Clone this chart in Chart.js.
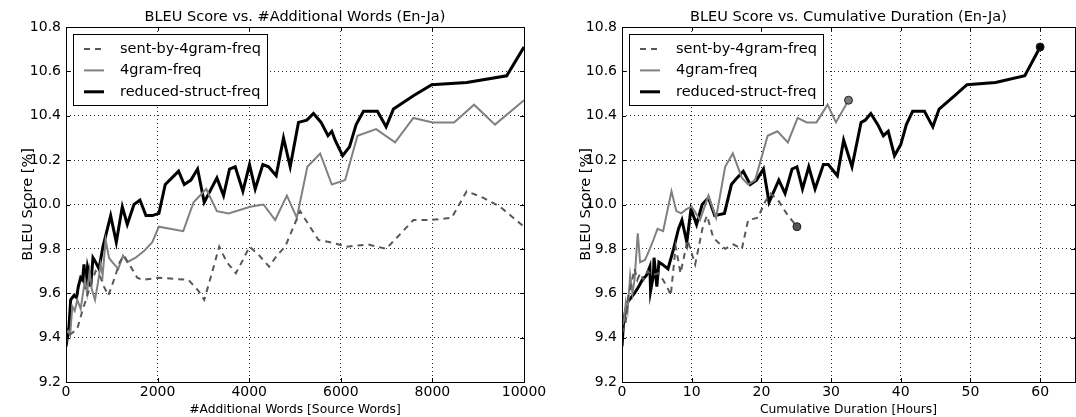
<!DOCTYPE html>
<html><head><meta charset="utf-8">
<script src="https://cdn.jsdelivr.net/npm/chart.js@4/dist/chart.umd.min.js"></script>
<style>
html,body{margin:0;padding:0;background:#fff;overflow:hidden;width:1076px;height:417px;position:relative;}
#wrapL{position:absolute;left:0;top:0;width:560px;height:417px;}
#wrapR{position:absolute;left:540px;top:0;width:540px;height:417px;}
canvas{display:block;}
</style></head><body>
<div id="wrapL"><canvas id="cL" width="560" height="417"></canvas></div>
<div id="wrapR"><canvas id="cR" width="540" height="417"></canvas></div>
<script>
// ---------- data ----------
const seriesLabels = ['sent-by-4gram-freq', '4gram-freq', 'reduced-struct-freq'];
const yTicks = [9.2, 9.4, 9.6, 9.8, 10.0, 10.2, 10.4, 10.6, 10.8];
const wordTicks = [0, 2000, 4000, 6000, 8000, 10000];
const hourTicks = [0, 10, 20, 30, 40, 50, 60];

// Left: #Additional Words
const wordsDashed = [0,29,130,247,356,465,560,647,740,829,924,1047,1171,1265,1411,1556,1665,2022,2676,2895,3018,3185,3345,3513,3709,3862,4007,4220,4436,4604,4785,4967,5113,5295,5513,5767,6131,6600,6989,7222,7585,7949,8422,8749,9113,9476,10000];
const bleuWordsDashed = [9.37,9.41,9.42,9.44,9.52,9.59,9.65,9.70,9.68,9.63,9.59,9.66,9.74,9.77,9.72,9.67,9.66,9.67,9.66,9.61,9.57,9.69,9.81,9.74,9.69,9.75,9.81,9.77,9.72,9.77,9.81,9.90,9.97,9.91,9.84,9.83,9.81,9.82,9.80,9.85,9.93,9.93,9.94,10.06,10.03,9.99,9.90];

const wordsGray = [0,51,90,138,190,247,320,415,460,516,560,633,700,756,800,865,940,1011,1142,1244,1338,1520,1702,1884,2029,2560,2785,3062,3295,3549,4022,4313,4567,4822,5040,5270,5549,5804,6095,6364,6771,7185,7585,8007,8473,8909,9367,10000];
const bleuWordsGray = [9.42,9.43,9.41,9.54,9.52,9.57,9.53,9.66,9.60,9.70,9.62,9.57,9.65,9.73,9.68,9.84,9.76,9.74,9.71,9.77,9.74,9.76,9.79,9.83,9.90,9.88,10.01,10.07,9.97,9.96,9.99,10.0,9.93,10.04,9.94,10.17,10.23,10.09,10.11,10.31,10.34,10.28,10.39,10.37,10.37,10.45,10.36,10.47];

const wordsBlack = [0,65,102,175,230,269,320,360,393,429,470,516,538,589,647,720,807,975,1098,1229,1338,1484,1615,1745,1884,2029,2167,2313,2458,2582,2727,2873,3018,3295,3440,3571,3695,3862,4007,4131,4298,4422,4589,4749,4895,5076,5258,5404,5570,5720,5804,5876,6040,6190,6335,6495,6800,6989,7149,7585,7985,8749,9622,10000];
const bleuWordsBlack = [9.36,9.45,9.57,9.59,9.58,9.63,9.67,9.66,9.73,9.62,9.72,9.68,9.63,9.76,9.74,9.71,9.81,9.95,9.83,9.99,9.91,10.0,10.02,9.95,9.95,9.96,10.09,10.12,10.15,10.09,10.11,10.16,10.01,10.12,10.04,10.16,10.17,10.06,10.18,10.07,10.18,10.17,10.13,10.30,10.17,10.37,10.38,10.41,10.37,10.31,10.33,10.29,10.22,10.26,10.36,10.42,10.42,10.35,10.43,10.49,10.54,10.55,10.58,10.71];

// Right: Cumulative Duration [Hours]
const hoursDashed = [0,0.5,0.9,1.4,1.8,2.2,2.6,3.1,3.7,4.3,5.2,5.9,6.6,7.0,7.7,8.4,9.4,10.5,11.6,12.2,13.1,14.8,16.0,17.2,18.1,19.5,20.5,21.3,22.4,23.6,25.1];
const bleuHoursDashed = [9.42,9.46,9.59,9.65,9.71,9.66,9.69,9.66,9.70,9.68,9.69,9.66,9.62,9.59,9.81,9.69,9.84,9.73,9.90,9.95,9.85,9.80,9.82,9.80,9.93,9.94,10.01,10.05,10.02,9.96,9.90];

const hoursGray = [0,0.3,0.55,0.8,1.17,1.5,1.8,2.26,2.6,3.3,4.0,4.5,5.1,5.9,7.1,7.8,8.5,9.3,10.0,11.2,12.4,13.5,14.8,15.9,17.2,18.1,19.1,20.9,22.3,23.8,25.2,26.5,27.9,29.5,30.7,32.5];
const bleuHoursGray = [9.45,9.48,9.56,9.52,9.68,9.60,9.66,9.87,9.74,9.75,9.80,9.84,9.89,9.88,10.06,9.97,9.96,9.98,9.99,9.93,10.04,9.94,10.17,10.23,10.12,10.09,10.11,10.31,10.33,10.28,10.39,10.37,10.37,10.45,10.37,10.47];

const hoursBlack = [0,0.2,0.5,0.8,1.3,1.8,2.4,2.9,3.5,4.0,4.1,4.5,4.6,5.0,5.3,5.8,6.6,7.4,8.1,8.6,9.3,9.9,10.7,11.5,12.4,13.3,14.7,15.7,16.5,17.4,18.4,19.3,20.3,21.1,22.5,23.4,24.4,25.1,25.9,26.8,27.7,28.9,29.6,30.9,31.8,33.0,34.3,34.9,35.7,36.7,37.5,38.2,39.1,40.0,40.8,41.7,43.4,44.6,45.5,47.7,49.5,53.6,57.8,60.0];
const bleuHoursBlack = [9.36,9.46,9.52,9.56,9.58,9.60,9.63,9.66,9.68,9.72,9.61,9.68,9.76,9.63,9.74,9.73,9.71,9.80,9.89,9.93,9.83,9.98,9.91,10.0,10.03,9.95,9.96,10.09,10.12,10.15,10.09,10.11,10.16,10.01,10.11,10.05,10.16,10.17,10.07,10.17,10.07,10.18,10.18,10.13,10.29,10.17,10.37,10.38,10.41,10.36,10.31,10.33,10.22,10.27,10.36,10.42,10.42,10.35,10.43,10.49,10.54,10.55,10.58,10.71];

// ---------- helpers ----------
const FONT = '"DejaVu Sans", Verdana, sans-serif';
Chart.defaults.font.family = FONT;
Chart.defaults.color = '#000';

const pts = (xs, ys) => xs.map((x, i) => ({x: x, y: ys[i]}));

const styles = [
  {color: '#585858', width: 2, dash: [6, 5], marker: '#555555'},
  {color: '#808080', width: 2, dash: [], marker: '#7a7a7a'},
  {color: '#000000', width: 3, dash: [], marker: '#000000'}
];

function makeDatasets(xsList, ysList, endMarkers) {
  return xsList.map((xs, i) => {
    const s = styles[i];
    const n = xs.length;
    return {
      label: seriesLabels[i],
      data: pts(xs, ysList[i]),
      borderColor: s.color,
      backgroundColor: s.color,
      borderWidth: s.width,
      borderDash: s.dash,
      tension: 0,
      fill: false,
      pointRadius: c => (endMarkers && c.dataIndex === n - 1) ? 4 : 0,
      pointBackgroundColor: s.marker,
      pointBorderColor: '#222',
      pointBorderWidth: 1,
      pointHoverRadius: 0
    };
  });
}

const frameAndLegend = {
  id: 'frameAndLegend',
  afterDatasetsDraw(chart) {
    const ctx = chart.ctx, ca = chart.chartArea;
    ctx.save();
    // inward tick marks
    ctx.strokeStyle = '#000'; ctx.lineWidth = 1; ctx.setLineDash([]);
    const xs = chart.scales.x, ys = chart.scales.y;
    xs.ticks.forEach(t => {
      const px = Math.round(xs.getPixelForValue(t.value)) + 0.5;
      ctx.beginPath();
      ctx.moveTo(px, ca.bottom); ctx.lineTo(px, ca.bottom - 4);
      ctx.moveTo(px, ca.top); ctx.lineTo(px, ca.top + 4);
      ctx.stroke();
    });
    ys.ticks.forEach(t => {
      const py = Math.round(ys.getPixelForValue(t.value)) + 0.5;
      ctx.beginPath();
      ctx.moveTo(ca.left, py); ctx.lineTo(ca.left + 4, py);
      ctx.moveTo(ca.right, py); ctx.lineTo(ca.right - 4, py);
      ctx.stroke();
    });
    // frame
    ctx.strokeRect(Math.round(ca.left) + 0.5, Math.round(ca.top) + 0.5,
                   Math.round(ca.right - ca.left), Math.round(ca.bottom - ca.top));
    // legend box
    const bx = Math.round(ca.left) + 7, by = Math.round(ca.top) + 7, bw = 194, bh = 71;
    ctx.fillStyle = '#fff';
    ctx.fillRect(bx, by, bw, bh);
    ctx.strokeStyle = '#000'; ctx.lineWidth = 1;
    ctx.strokeRect(bx + 0.5, by + 0.5, bw, bh);
    ctx.font = '14.5px ' + FONT;
    ctx.textBaseline = 'middle';
    chart.data.datasets.forEach((ds, i) => {
      const cy = by + 15 + i * 21.4;
      ctx.beginPath();
      ctx.setLineDash(ds.borderDash || []);
      ctx.strokeStyle = ds.borderColor; ctx.lineWidth = ds.borderWidth;
      ctx.moveTo(bx + 11, cy); ctx.lineTo(bx + 31, cy);
      ctx.stroke();
      ctx.setLineDash([]);
      ctx.fillStyle = '#000';
      ctx.fillText(ds.label, bx + 47, cy);
    });
    ctx.restore();
  }
};

function makeOptions(cfg) {
  return {
    responsive: false,
    animation: false,
    devicePixelRatio: 1,
    layout: {padding: {left: cfg.padLeft, right: cfg.padRight, top: 0, bottom: 0}},
    plugins: {
      legend: {display: false},
      tooltip: {enabled: false},
      title: {display: true, text: cfg.title, fullSize: false, color: '#000',
              font: {size: 14.5, weight: 'normal', family: FONT, lineHeight: 1.2},
              padding: {top: 8.5, bottom: 1.1}}
    },
    scales: {
      x: {
        type: 'linear', min: 0, max: cfg.xMax,
        afterBuildTicks: s => { s.ticks = cfg.xTicks.map(v => ({value: v})); },
        afterFit: s => { s.height = 35; },
        ticks: {font: {size: 14}, color: '#000', padding: 2, maxRotation: 0, autoSkip: false,
                callback: v => String(v)},
        grid: {color: 'rgba(0,0,0,0.85)', lineWidth: 1, drawTicks: false},
        border: {display: false, dash: [1, 3]},
        title: {display: true, text: cfg.xTitle, font: {size: 12.3}, color: '#000', padding: {top: 0, bottom: 0}}
      },
      y: {
        type: 'linear', min: 9.2, max: 10.8,
        afterBuildTicks: s => { s.ticks = yTicks.map(v => ({value: v})); },
        afterFit: s => { s.width = cfg.yWidth; },
        ticks: {font: {size: 14}, color: '#000', padding: 5, callback: v => Number(v).toFixed(1)},
        grid: {color: 'rgba(0,0,0,0.85)', lineWidth: 1, drawTicks: false},
        border: {display: false, dash: [1, 3]},
        title: {display: true, text: 'BLEU Score [%]', font: {size: 14.5}, color: '#000', padding: {top: cfg.yTitlePad, bottom: 0}}
      }
    }
  };
}

new Chart(document.getElementById('cL'), {
  type: 'line',
  data: {datasets: makeDatasets([wordsDashed, wordsGray, wordsBlack],
                                [bleuWordsDashed, bleuWordsGray, bleuWordsBlack], false)},
  options: makeOptions({padLeft: 0, padRight: 36, yWidth: 66, yTitlePad: 19.2, xMax: 10000, xTicks: wordTicks,
                        title: 'BLEU Score vs. #Additional Words (En-Ja)',
                        xTitle: '#Additional Words [Source Words]'}),
  plugins: [frameAndLegend]
});

new Chart(document.getElementById('cR'), {
  type: 'line',
  data: {datasets: makeDatasets([hoursDashed, hoursGray, hoursBlack],
                                [bleuHoursDashed, bleuHoursGray, bleuHoursBlack], true)},
  options: makeOptions({padLeft: 15, padRight: 2, yWidth: 67, yTitlePad: 22.2, xMax: 65, xTicks: hourTicks,
                        title: 'BLEU Score vs. Cumulative Duration (En-Ja)',
                        xTitle: 'Cumulative Duration [Hours]'}),
  plugins: [frameAndLegend]
});
</script>
</body></html>
